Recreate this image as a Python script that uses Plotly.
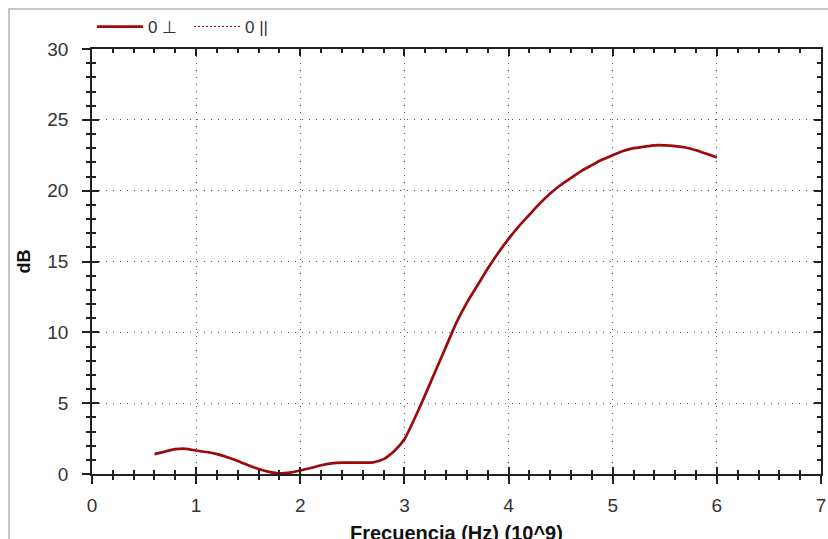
import plotly.graph_objects as go

# Frequency axis (GHz, i.e. Hz x 10^9) and attenuation in dB
freq_ghz = [0.6, 0.7, 0.8, 0.9, 1.0, 1.1, 1.2, 1.3, 1.4, 1.5,
            1.6, 1.7, 1.8, 1.9, 2.0, 2.1, 2.2, 2.3, 2.4, 2.5,
            2.6, 2.7, 2.8, 2.9, 3.0, 3.1, 3.2, 3.3, 3.4, 3.5,
            3.6, 3.7, 3.8, 3.9, 4.0, 4.1, 4.2, 4.3, 4.4, 4.5,
            4.6, 4.7, 4.8, 4.9, 5.0, 5.1, 5.2, 5.3, 5.4, 5.5,
            5.6, 5.7, 5.8, 5.9, 6.0]
db_perp = [1.40, 1.58, 1.75, 1.78, 1.66, 1.55, 1.40, 1.18, 0.92, 0.62,
           0.35, 0.15, 0.05, 0.10, 0.25, 0.42, 0.62, 0.75, 0.80, 0.80,
           0.80, 0.82, 1.05, 1.60, 2.45, 3.95, 5.60, 7.30, 9.00, 10.70,
           12.10, 13.30, 14.50, 15.60, 16.60, 17.50, 18.30, 19.10, 19.80, 20.40,
           20.90, 21.40, 21.80, 22.20, 22.50, 22.80, 23.00, 23.10, 23.20, 23.20,
           23.15, 23.05, 22.85, 22.60, 22.35]
# parallel polarisation series (no valid samples)
freq_par = [None]
db_par = [None]

series_names = ["0 \u22a5", "0 ||"]
x_ticks = [0, 1, 2, 3, 4, 5, 6, 7]
y_ticks = [0, 5, 10, 15, 20, 25, 30]
x_title = "Frecuencia (Hz) (10^9)"
y_title = "dB"

W, H = 828, 539
L, R, T, B = 92, 7, 49, 65
pw, ph = W - L - R, H - T - B


def px_x(p):
    return (p - L) / pw


def px_y(p):
    return (H - B - p) / ph


AXC = "#222222"
TXT = "#333333"
RED = "#9b0b0b"
FONT = "Liberation Sans, Arial, sans-serif"

fig = go.Figure()
fig.add_trace(go.Scatter(
    x=freq_ghz, y=db_perp, name=series_names[0], mode="lines",
    line=dict(color=RED, width=2.7, shape="spline", smoothing=0.5),
))
fig.add_trace(go.Scatter(
    x=freq_par, y=db_par, name=series_names[1], mode="lines",
    line=dict(color=RED, width=1, dash="2px,2px"),
    xaxis="x2", yaxis="y2",
))

grid = dict(showgrid=True, gridcolor="#555555", gridwidth=1.2, griddash="1.2px,5.8px")

fig.update_layout(
    width=W, height=H,
    margin=dict(l=L, r=R, t=T, b=B, pad=0, autoexpand=False),
    paper_bgcolor="white", plot_bgcolor="white",
    font=dict(family=FONT, size=18, color=TXT),
    showlegend=True,
    legend=dict(
        orientation="h", x=px_x(92), y=px_y(9), xanchor="left", yanchor="top",
        font=dict(size=17, color=TXT), bgcolor="rgba(0,0,0,0)",
        itemwidth=46, tracegroupgap=0, entrywidth=36,
    ),
    xaxis=dict(
        range=[0, 7], tickvals=x_ticks, ticks="outside", ticklen=8, tickwidth=1.5,
        tickcolor=AXC, showline=True, mirror=True, linecolor=AXC, linewidth=1.5,
        zeroline=False, tickfont=dict(size=19, color=TXT), ticklabelstandoff=5,
        automargin=False,
        minor=dict(ticks="outside", ticklen=4, tickwidth=1.5, tickcolor=AXC,
                   dtick=0.2, showgrid=False),
        **grid,
    ),
    yaxis=dict(
        range=[0, 30], tickvals=y_ticks, ticks="outside", ticklen=8, tickwidth=1.5,
        tickcolor=AXC, showline=True, mirror=True, linecolor=AXC, linewidth=1.5,
        zeroline=False, tickfont=dict(size=19, color=TXT), ticklabelstandoff=10,
        automargin=False,
        minor=dict(ticks="outside", ticklen=4, tickwidth=1.5, tickcolor=AXC,
                   dtick=1, showgrid=False),
        title=dict(text="<b>" + y_title + "</b>", font=dict(size=18, color="#111111"),
                   standoff=12),
        **grid,
    ),
    xaxis2=dict(
        range=[0, 7], overlaying="x", anchor="y2", side="bottom", tickvals=x_ticks,
        ticks="inside", ticklen=7, tickwidth=1.5, tickcolor=AXC, mirror="ticks",
        showline=False, showgrid=False, zeroline=False, showticklabels=False,
        automargin=False,
        minor=dict(ticks="inside", ticklen=4, tickwidth=1.5, tickcolor=AXC,
                   dtick=0.2, showgrid=False),
    ),
    yaxis2=dict(
        range=[0, 30], overlaying="y", anchor="x2", side="left", tickvals=y_ticks,
        ticks="inside", ticklen=7, tickwidth=1.5, tickcolor=AXC, mirror="ticks",
        showline=False, showgrid=False, zeroline=False, showticklabels=False,
        automargin=False,
        minor=dict(ticks="inside", ticklen=4, tickwidth=1.5, tickcolor=AXC,
                   dtick=1, showgrid=False),
    ),
    # x-axis title placed below the tick labels, partly past the page edge
    annotations=[dict(
        text="<b>" + x_title + "</b>", xref="paper", yref="paper",
        x=0.5, y=px_y(520), xanchor="center", yanchor="top", showarrow=False,
        font=dict(size=20, color="#111111"),
    )],
    shapes=[dict(
        type="rect", xref="paper", yref="paper",
        x0=px_x(9), x1=px_x(860), y0=px_y(580), y1=px_y(9),
        line=dict(color="#b4b4b4", width=1.5), fillcolor="rgba(0,0,0,0)", layer="below",
    )],
)

fig.write_html("out.html")
